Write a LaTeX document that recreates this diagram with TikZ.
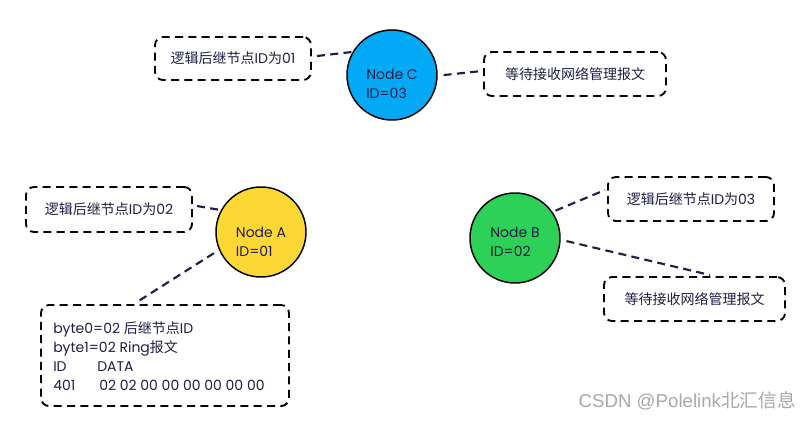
\documentclass[tikz,border=0pt]{standalone}
\usepackage{fontspec}
\setmainfont{Poppins}
\newfontfamily\cjk{Noto Sans CJK SC}
\newfontfamily\wm{Liberation Sans}
\usetikzlibrary{calc}
\definecolor{ink}{HTML}{1E1E46}
\definecolor{cblue}{HTML}{03A9F4}
\definecolor{cyellow}{HTML}{FDD835}
\definecolor{cgreen}{HTML}{2ED158}
\definecolor{wmgray}{HTML}{A8A8A8}
\tikzset{
  nodecirc/.style={circle, draw=black, line width=1.1pt, minimum size=67.5pt, inner sep=0pt, outer sep=0pt},
  nodetext/.style={align=left, text=ink, inner sep=0pt, font=\fontsize{10.5}{14.25}\selectfont},
  box/.style={draw=black, line width=1.4pt, dash pattern=on 6pt off 4pt, rounded corners=6pt, text=ink, inner sep=0pt, outer sep=0pt, font=\fontsize{10.5}{14.25}\selectfont},
  conn/.style={draw=ink, line width=1.6pt, dash pattern=on 6pt off 4pt}
}
\begin{document}
\begin{tikzpicture}[x=0.75pt,y=-0.75pt]
\useasboundingbox (0,0) rectangle (808,421);
% circles
\node[nodecirc, fill=cblue] (C) at (392,75) {};
\node[nodecirc, fill=cyellow] (A) at (261,232) {};
\node[nodecirc, fill=cgreen] (B) at (515,238) {};
\node[nodetext] (Ct) at ($(C)+(0,9)$) {Node C\\ID=03};
\node[nodetext] (At) at ($(A)+(0,10)$) {Node A\\ID=01};
\node[nodetext] (Bt) at ($(B)+(0,4)$) {Node B\\ID=02};
% boxes
\node[box, minimum width=117pt, minimum height=32.25pt] (bCl) at (233,58.5) {{\cjk 逻辑后继节点}ID{\cjk 为}01};
\node[box, minimum width=136.5pt, minimum height=33pt] (bCr) at (575,74) {\cjk 等待接收网络管理报文};
\node[box, minimum width=124.5pt, minimum height=33.75pt] (bAl) at (109,209.5) {{\cjk 逻辑后继节点}ID{\cjk 为}02};
\node[box, minimum width=186pt, minimum height=75.75pt] (bAd) at (165,355.5) {};
\node[nodetext, anchor=west] (bAdt) at (53,356) {byte0=02 {\cjk 后继节点}ID\\byte1=02 Ring{\cjk 报文}\\\makebox[33pt][l]{ID}DATA\\\makebox[34.5pt][l]{401}02 02 00 00 00 00 00 00};
\node[box, minimum width=124.5pt, minimum height=33pt] (bBt) at (691,199) {{\cjk 逻辑后继节点}ID{\cjk 为}03};
\node[box, minimum width=135.75pt, minimum height=33pt] (bBb) at (694.5,299) {\cjk 等待接收网络管理报文};
% connectors
\draw[conn] ($(bCl.east)+(6,-2.5)$) -- (C.149);
\draw[conn, shorten <=5pt] (C.-1) -- ($(bCr.west)+(-2,-3)$);
\draw[conn] ($(bAl.east)+(5,-3.5)$) -- (A.151);
\draw[conn, shorten <=5pt] (A.203) -- ($(bAd.north)+(-28,-3)$);
\draw[conn, shorten <=3pt] (B.35) -- ($(bBt.west)+(-3,-9)$);
\draw[conn, shorten <=5pt] (B.-2) -- ($(bBb.north)+(15.5,-2)$);
% watermark
\node[anchor=east, text=wmgray, inner sep=0pt, font=\fontsize{14}{16}\selectfont] (wm) at (796,401) {\wm CSDN @Polelink{\cjk 北汇信息}};
\end{tikzpicture}
\end{document}
